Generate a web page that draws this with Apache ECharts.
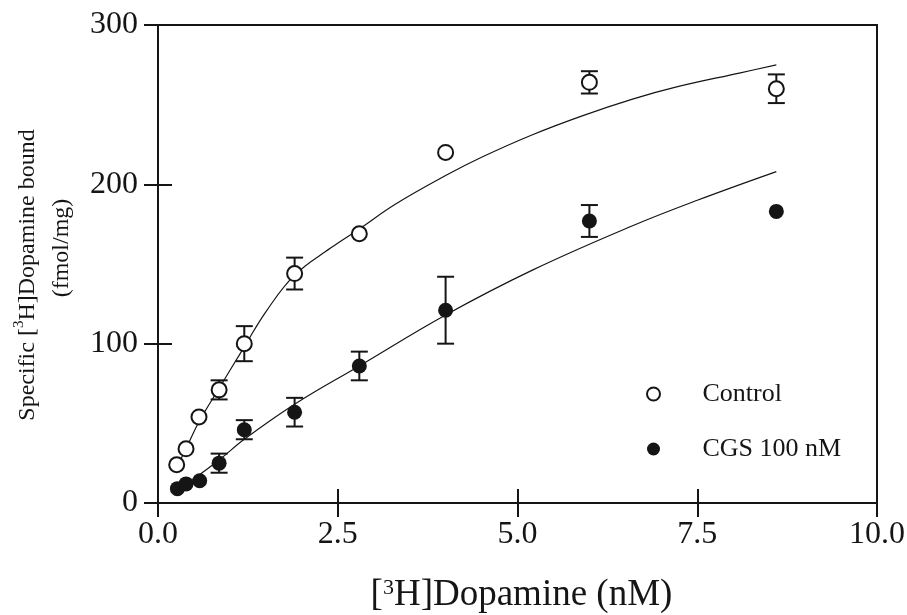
<!DOCTYPE html>
<html>
<head>
<meta charset="utf-8">
<title>[3H]Dopamine binding</title>
<script src="https://cdn.jsdelivr.net/npm/echarts@6/dist/echarts.min.js"></script>
<style>
	html, body { margin:0; padding:0; background:#fff; }
	#main2dchart { width:907px; height:615px; }
</style>
</head>
<body>
<div id="main2dchart"></div>
<script>
// 测量点 (x: nM, y: fmol/mg, err: SEM, 0 = 无误差棒)
var controlX = [0.26, 0.39, 0.57, 0.85, 1.2, 1.9, 2.8, 4.0, 6.0, 8.6];
var controlY = [24, 34, 54, 71, 100, 144, 169, 220, 264, 260];
var controlErr = [0, 0, 0, 6, 11, 10, 0, 0, 7, 9];

var cgsX = [0.27, 0.39, 0.58, 0.85, 1.2, 1.9, 2.8, 4.0, 6.0, 8.6];
var cgsY = [9, 12, 14, 25, 46, 57, 86, 121, 177, 183];
var cgsErr = [0, 0, 0, 6, 6, 9, 9, 21, 10, 0];

// 拟合曲线，从图上读的点
var controlFitX = [0.3, 0.4, 0.57, 0.85, 1.2, 1.5, 1.9, 2.4, 2.8, 3.3, 4.0, 4.5, 5.2, 5.9, 6.6, 7.2, 8.1, 8.6];
var controlFitY = [26, 35, 51, 72, 98, 120, 143, 160, 172, 187.5, 205.5, 217, 231, 243, 253.5, 261, 270, 275];

var cgsFitX = [0.4, 0.85, 1.2, 1.9, 2.8, 4.0, 5.2, 6.6, 7.5, 8.6];
var cgsFitY = [12, 27, 40, 62, 86, 118, 146, 174, 190, 208];

var xTicks = [0, 2.5, 5, 7.5, 10];
var yTicks = [0, 100, 200, 300];

var Dopaminechart = {
	font: 'Liberation Serif',
	ink: '#151515',

	zip: function(xs, ys, es){
		var out = [];
		for (var i = 0; i < xs.length; i++) {
			if (es) {
				out.push([xs[i], ys[i], es[i]]);
			} else {
				out.push([xs[i], ys[i]]);
			}
		}
		return out;
	},

	errorBar: function(params, api){
		var x = api.value(0);
		var y = api.value(1);
		var e = api.value(2);
		if (!e) {
			return;
		}
		var top = api.coord([x, y + e]);
		var bot = api.coord([x, y - e]);
		var half = 8.5;
		var style = { stroke: Dopaminechart.ink, lineWidth: 2 };
		return {
			type: 'group',
			children: [
				{ type: 'line', shape: { x1: top[0], y1: top[1], x2: bot[0], y2: bot[1] }, style: style },
				{ type: 'line', shape: { x1: top[0] - half, y1: top[1], x2: top[0] + half, y2: top[1] }, style: style },
				{ type: 'line', shape: { x1: bot[0] - half, y1: bot[1], x2: bot[0] + half, y2: bot[1] }, style: style }
			]
		};
	},

	chartOptionfun: function(){
		var font = Dopaminechart.font;
		var ink = Dopaminechart.ink;
		var axisLine = { show: true, onZero: false, lineStyle: { color: ink, width: 2 } };
		var tickLen = 14;

		// 主坐标轴(外刻度+标签)，叠一层内刻度，再加顶/右边框
		var xAxis = [
			{
				type: 'value', position: 'bottom', min: xTicks[0], max: xTicks[xTicks.length - 1], interval: 2.5,
				axisLine: axisLine,
				axisTick: { show: true, inside: false, length: tickLen, lineStyle: { color: ink, width: 2 } },
				axisLabel: {
					show: true, margin: 16, color: ink, fontFamily: font, fontSize: 32,
					formatter: function(v){ return v.toFixed(1); }
				},
				splitLine: { show: false },
				name: '{sp| }[{sup|3}H]Dopamine (nM)',
				nameLocation: 'middle',
				nameGap: 74,
				nameTextStyle: {
					color: ink, fontFamily: font, fontSize: 37,
					rich: {
						sup: { color: ink, fontFamily: font, fontSize: 22, verticalAlign: 'top', lineHeight: 22 },
						sp: { width: 8 }
					}
				}
			},
			{
				type: 'value', position: 'bottom', min: xTicks[0], max: xTicks[xTicks.length - 1], interval: 2.5,
				axisLine: { show: false },
				axisTick: { show: true, inside: true, length: tickLen, lineStyle: { color: ink, width: 2 } },
				axisLabel: { show: false },
				splitLine: { show: false }
			},
			{
				type: 'value', position: 'top', min: 0, max: 10,
				axisLine: axisLine,
				axisTick: { show: false }, axisLabel: { show: false }, splitLine: { show: false }
			}
		];

		var yAxis = [
			{
				type: 'value', position: 'left', min: yTicks[0], max: yTicks[yTicks.length - 1], interval: 100,
				axisLine: axisLine,
				axisTick: { show: true, inside: false, length: tickLen, lineStyle: { color: ink, width: 2 } },
				axisLabel: { show: true, margin: 20, color: ink, fontFamily: font, fontSize: 32 },
				splitLine: { show: false },
				// 两行错开，用空白 token 推一下
				name: 'Specific [{sup|3}H]Dopamine bound{sp1| }\n{sp2| }(fmol/mg)',
				nameLocation: 'middle',
				nameRotate: 90,
				nameGap: 74,
				nameTextStyle: {
					color: ink, fontFamily: font, fontSize: 24, lineHeight: 34,
					rich: {
						sup: { color: ink, fontFamily: font, fontSize: 15, verticalAlign: 'top', lineHeight: 16 },
						sp1: { width: 22 },
						sp2: { width: 32 }
					}
				}
			},
			{
				type: 'value', position: 'left', min: yTicks[0], max: yTicks[yTicks.length - 1], interval: 100,
				axisLine: { show: false },
				axisTick: { show: true, inside: true, length: tickLen, lineStyle: { color: ink, width: 2 } },
				axisLabel: { show: false },
				splitLine: { show: false }
			},
			{
				type: 'value', position: 'right', min: 0, max: 300,
				axisLine: axisLine,
				axisTick: { show: false }, axisLabel: { show: false }, splitLine: { show: false }
			}
		];

		var series = [
			{
				name: 'Control fit', type: 'line', xAxisIndex: 0, yAxisIndex: 0,
				data: Dopaminechart.zip(controlFitX, controlFitY),
				showSymbol: false, smooth: 0.4, silent: true, z: 2,
				lineStyle: { color: ink, width: 1.2 }
			},
			{
				name: 'CGS fit', type: 'line', xAxisIndex: 0, yAxisIndex: 0,
				data: Dopaminechart.zip(cgsFitX, cgsFitY),
				showSymbol: false, smooth: 0.4, silent: true, z: 2,
				lineStyle: { color: ink, width: 1.2 }
			},
			{
				name: 'Control err', type: 'custom', xAxisIndex: 0, yAxisIndex: 0,
				renderItem: Dopaminechart.errorBar, silent: true, z: 3,
				data: Dopaminechart.zip(controlX, controlY, controlErr)
			},
			{
				name: 'CGS err', type: 'custom', xAxisIndex: 0, yAxisIndex: 0,
				renderItem: Dopaminechart.errorBar, silent: true, z: 3,
				data: Dopaminechart.zip(cgsX, cgsY, cgsErr)
			},
			{
				name: 'Control', type: 'scatter', xAxisIndex: 0, yAxisIndex: 0,
				data: Dopaminechart.zip(controlX, controlY),
				symbol: 'circle', symbolSize: 15, z: 4,
				itemStyle: { color: '#fff', borderColor: ink, borderWidth: 2, opacity: 1 }
			},
			{
				name: 'CGS 100 nM', type: 'scatter', xAxisIndex: 0, yAxisIndex: 0,
				data: Dopaminechart.zip(cgsX, cgsY),
				symbol: 'circle', symbolSize: 15, z: 4,
				itemStyle: { color: ink, borderColor: ink, borderWidth: 0, opacity: 1 }
			}
		];

		var option = {
			animation: false,
			backgroundColor: '#fff',
			grid: { left: 158, right: 30, top: 25, bottom: 112, containLabel: false, outerBoundsMode: 'none' },
			legend: {
				data: ['Control', 'CGS 100 nM'],
				orient: 'vertical',
				left: 641, top: 376,
				icon: 'circle',
				itemWidth: 88, itemHeight: 13,
				itemGap: 29,
				selectedMode: false,
				textStyle: { color: ink, fontFamily: font, fontSize: 26 }
			},
			xAxis: xAxis,
			yAxis: yAxis,
			series: series
		};
		return option;
	},

	init: function(){
		var chart = echarts.init(document.getElementById('main2dchart'), null, { renderer: 'canvas' });
		chart.setOption(Dopaminechart.chartOptionfun(), true);
	}
};

Dopaminechart.init();
</script>
</body>
</html>
